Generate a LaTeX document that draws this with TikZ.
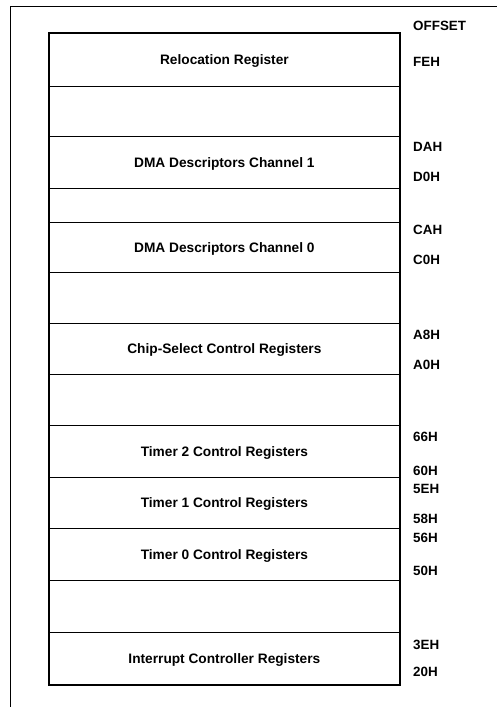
\documentclass[tikz,border=0pt]{standalone}
\usepackage{fontspec}
\setmainfont{Liberation Sans}
\begin{document}
\begin{tikzpicture}[x=1pt,y=-1pt,
  lbl/.style={font=\fontsize{13.7}{15}\selectfont\bfseries, inner sep=0pt, text height=9.8pt, text depth=0pt},
  off/.style={font=\fontsize{13.4}{15}\selectfont\bfseries, inner sep=0pt, text height=9.6pt, text depth=0pt, anchor=west},
  rowbox/.style={draw, line width=0.8pt, inner sep=0pt, anchor=north west, minimum width=350pt},
  frame/.style={line width=0.9pt},
  outer/.style={draw, line width=1.4pt}]
\useasboundingbox (0,0) rectangle (497,707);
\draw[frame] (10,707) -- (10,6) -- (497,6);
% rows
\node[rowbox, minimum height=53pt] (r1) at (49,33) {};
\node[rowbox, minimum height=50pt] (r2) at (49,86) {};
\node[rowbox, minimum height=52pt] (r3) at (49,136) {};
\node[rowbox, minimum height=34pt] (r4) at (49,188) {};
\node[rowbox, minimum height=50pt] (r5) at (49,222) {};
\node[rowbox, minimum height=51pt] (r6) at (49,272) {};
\node[rowbox, minimum height=51pt] (r7) at (49,323) {};
\node[rowbox, minimum height=51pt] (r8) at (49,374) {};
\node[rowbox, minimum height=52pt] (r9) at (49,425) {};
\node[rowbox, minimum height=51pt] (r10) at (49,477) {};
\node[rowbox, minimum height=52pt] (r11) at (49,528) {};
\node[rowbox, minimum height=52pt] (r12) at (49,580) {};
\node[rowbox, minimum height=52pt] (r13) at (49,632) {};
\draw[outer] (r1.north west) rectangle (r13.south east);
% row texts
\node[lbl] (t1) at (r1.center) {Relocation Register};
\node[lbl] (t3) at (r3.center) {DMA Descriptors Channel 1};
\node[lbl] (t5) at (r5.center) {DMA Descriptors Channel 0};
\node[lbl] (t7) at (r7.center) {Chip-Select Control Registers};
\node[lbl] (t9) at (r9.center) {Timer 2 Control Registers};
\node[lbl] (t10) at (r10.center) {Timer 1 Control Registers};
\node[lbl] (t11) at (r11.center) {Timer 0 Control Registers};
\node[lbl] (t13) at (r13.center) {Interrupt Controller Registers};
% offsets
\node[off] (oh) at (413,26) {OFFSET};
\node[off] (fe) at (413,62) {FEH};
\node[off] (da) at (413,147) {DAH};
\node[off] (d0) at (413,177) {D0H};
\node[off] (ca) at (413,230) {CAH};
\node[off] (c0) at (413,260) {C0H};
\node[off] (a8) at (413,335) {A8H};
\node[off] (a0) at (413,365) {A0H};
\node[off] (h66) at (413,437) {66H};
\node[off] (h60) at (413,471) {60H};
\node[off] (h5e) at (413,489) {5EH};
\node[off] (h58) at (413,519) {58H};
\node[off] (h56) at (413,538) {56H};
\node[off] (h50) at (413,571) {50H};
\node[off] (h3e) at (413,645) {3EH};
\node[off] (h20) at (413,672) {20H};
\end{tikzpicture}
\end{document}
